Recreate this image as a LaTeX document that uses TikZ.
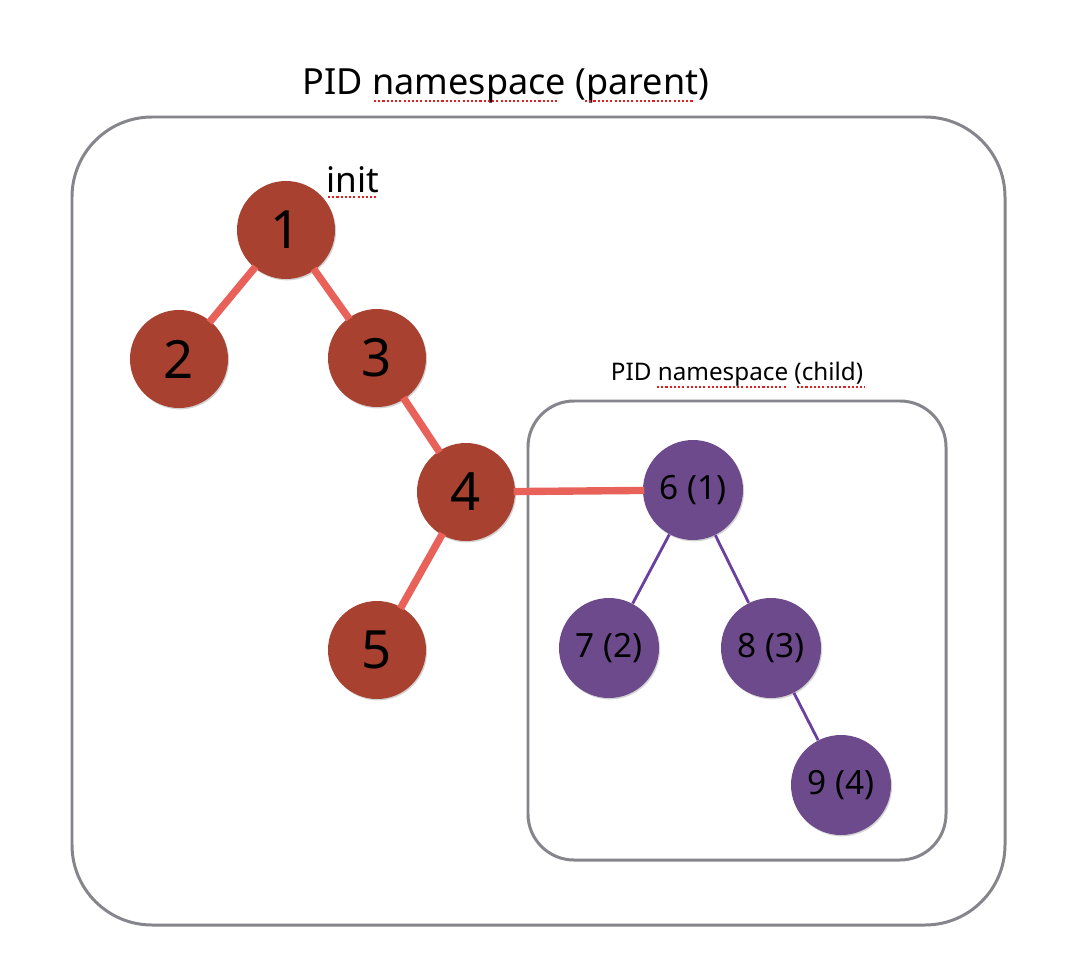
\documentclass[tikz,border=0pt]{standalone}
\usepackage{fontspec}
\setmainfont{Noto Sans}
\usetikzlibrary{shadows}
\definecolor{redfill}{HTML}{A8412F}
\definecolor{purplefill}{HTML}{6D4A8C}
\definecolor{redline}{HTML}{E8625A}
\definecolor{purpleline}{HTML}{6B3FA0}
\definecolor{boxgray}{HTML}{85858C}
\definecolor{spell}{HTML}{E02020}
\tikzset{
  rednode/.style={circle, fill=redfill, minimum size=98*0.02cm, inner sep=0pt, font=\fontsize{30}{32}\selectfont,
    drop shadow={shadow xshift=0.6pt, shadow yshift=-0.8pt, opacity=0.35}},
  purplenode/.style={circle, fill=purplefill, minimum size=100*0.02cm, inner sep=0pt, font=\fontsize{19}{21}\selectfont,
    drop shadow={shadow xshift=0.6pt, shadow yshift=-0.8pt, opacity=0.35}},
  redlink/.style={draw=redline, line width=4.2pt, shorten <=-1pt, shorten >=-1pt},
  purplelink/.style={draw=purpleline, line width=1.6pt},
  nsbox/.style={draw=boxgray, line width=1.7pt},
  spellmark/.style={draw=spell, line width=1pt, dash pattern=on 1.2pt off 1.2pt}
}
\begin{document}
\begin{tikzpicture}[x=0.02cm,y=-0.02cm]
\useasboundingbox (0,0) rectangle (1072,980);
\fill[white] (0,0) rectangle (1072,980);

% boxes
\draw[nsbox, rounded corners=80*0.02cm] (72,117) rectangle (1005,925);
\draw[nsbox, rounded corners=46*0.02cm] (528,401) rectangle (946,860);

% labels
\node[font=\fontsize{20.5}{22}\selectfont] (ptitle) at (506,86) {PID namespace (parent)};
\node[font=\fontsize{20}{22}\selectfont] (initlbl) at (353,180) {init};
\node[font=\fontsize{13.8}{15}\selectfont] (ctitle) at (737,374) {PID namespace (child)};

% spell-check marks
\draw[spellmark] (374,101) -- (559,101);
\draw[spellmark] (585,101) -- (694,101);
\draw[spellmark] (328,197) -- (378,197);
\draw[spellmark] (657,387) -- (786,387);
\draw[spellmark] (797,387) -- (865,387);

% nodes
\node[rednode] (n1) at (286,230) {1};
\node[rednode] (n2) at (179,359) {2};
\node[rednode] (n3) at (377,358) {3};
\node[rednode] (n4) at (466,492) {4};
\node[rednode] (n5) at (377,650) {5};
\node[purplenode] (n6) at (693,490) {6 (1)};
\node[purplenode] (n7) at (609,648) {7 (2)};
\node[purplenode] (n8) at (771,648) {8 (3)};
\node[purplenode] (n9) at (841,785) {9 (4)};

% links
\draw[redlink] (n1) -- (n2);
\draw[redlink] (n1) -- (n3);
\draw[redlink] (n3) -- (n4);
\draw[redlink] (n4) -- (n5);
\draw[redlink] (n4) -- (n6);
\draw[purplelink] (n6) -- (n7);
\draw[purplelink] (n6) -- (n8);
\draw[purplelink] (n8) -- (n9);
\end{tikzpicture}
\end{document}
